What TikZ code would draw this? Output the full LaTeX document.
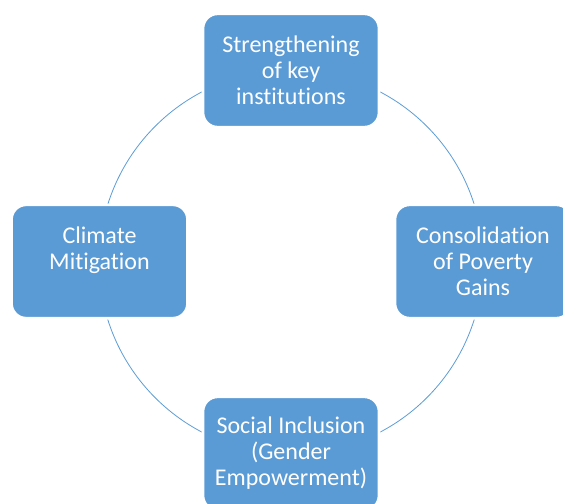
\documentclass[tikz,border=0pt]{standalone}
\usepackage{fontspec}
\setmainfont{Carlito}[Ligatures=NoCommon]
\definecolor{cycleblue}{HTML}{5B9BD5}

\begin{document}
\begin{tikzpicture}[x=0.75pt, y=-0.75pt,
        phase/.style={fill=cycleblue, draw=white, line width=2pt, rounded corners=11pt,
            minimum width=132pt, minimum height=85pt, inner sep=0pt,
            align=center, text=white, font=\fontsize{18}{19.5}\selectfont}]
        \useasboundingbox (0, 0) rectangle (563, 503);
        \clip (0, 0) rectangle (563, 503);
        \draw[cycleblue, line width=0.6pt] (291, 262) circle [radius=192];  % Cycle
        \node[phase] (inst) at (291, 70.5) {Strengthening\\of key\\institutions};
        \node[phase] (pov) at (483, 261.5) {Consolidation\\of Poverty\\Gains};
        \node[phase] (incl) at (291, 453.5) {Social Inclusion\\(Gender\\Empowerment)};
        \node[phase] (clim) at (99.5, 261.5) {Climate\\Mitigation\\\mbox{}};
    \end{tikzpicture}
\end{document}
